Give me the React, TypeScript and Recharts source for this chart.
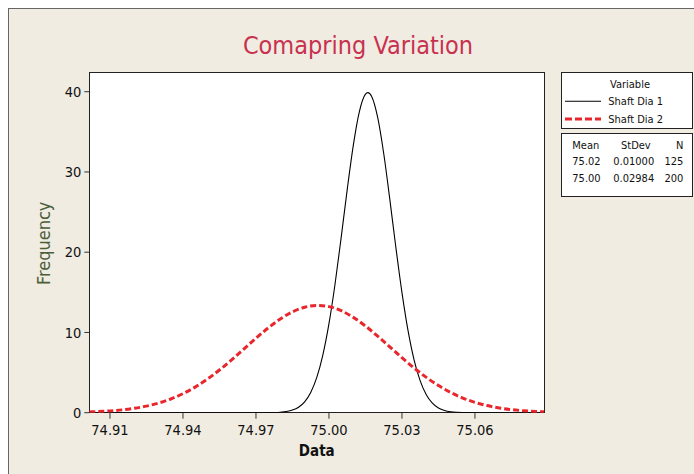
import React from "react";
import { LineChart, Line, XAxis, YAxis } from "recharts";

// Shaft Dia 1 (Mean 75.02, StDev 0.01000, N 125) — fitted density
const DIA1_X = [
  74.9015, 74.97, 74.975, 74.9775, 74.98, 74.9825, 74.985, 74.9875, 74.99, 74.9925,
  74.995, 74.9975, 75.0, 75.0025, 75.005, 75.0075, 75.01, 75.0125, 75.015, 75.016,
  75.0175, 75.02, 75.0225, 75.025, 75.0275, 75.03, 75.0325, 75.035, 75.0375, 75.04,
  75.0425, 75.045, 75.0475, 75.05, 75.0525, 75.055, 75.0575, 75.065, 75.0885,
];
const DIA1_Y = [
  0, 0, 0.009, 0.024, 0.061, 0.146, 0.327, 0.687, 1.36, 2.52,
  4.4, 7.21, 11.09, 16.04, 21.79, 27.8, 33.32, 37.52, 39.69, 39.89,
  39.45, 36.83, 32.3, 26.61, 20.59, 14.97, 10.23, 6.56, 3.96, 2.24,
  1.19, 0.595, 0.279, 0.123, 0.051, 0.02, 0.007, 0, 0,
];

// Shaft Dia 2 (Mean 75.00, StDev 0.02984, N 200)
const DIA2_X = [
  74.9015, 74.905, 74.91, 74.915, 74.92, 74.925, 74.93, 74.935, 74.94, 74.945,
  74.95, 74.955, 74.96, 74.965, 74.97, 74.975, 74.98, 74.985, 74.99, 74.995,
  75.0, 75.005, 75.01, 75.015, 75.02, 75.025, 75.03, 75.035, 75.04, 75.045,
  75.05, 75.055, 75.06, 75.065, 75.07, 75.075, 75.08, 75.085, 75.0885,
];
const DIA2_Y = [
  0.094, 0.135, 0.22, 0.351, 0.545, 0.82, 1.2, 1.71, 2.37, 3.19,
  4.18, 5.32, 6.59, 7.93, 9.28, 10.56, 11.68, 12.57, 13.14, 13.37,
  13.22, 12.71, 11.88, 10.8, 9.54, 8.2, 6.85, 5.57, 4.4, 3.38,
  2.52, 1.83, 1.29, 0.887, 0.592, 0.385, 0.243, 0.149, 0.104,
];

const X_TICKS = [74.91, 74.94, 74.97, 75.0, 75.03, 75.06];
const Y_TICKS = [0, 10, 20, 30, 40];
const X_DOMAIN = [74.9015, 75.0885];
const Y_DOMAIN = [0, 42.37];

const SERIES_NAMES = ["Shaft Dia 1", "Shaft Dia 2"];
const STAT_HEAD = ["Mean", "StDev", "N"];
const STAT_ROWS = [
  ["75.02", "0.01000", "125"],
  ["75.00", "0.02984", "200"],
];

const dia1 = DIA1_X.map((x, i) => ({ x, y: DIA1_Y[i] }));
const dia2 = DIA2_X.map((x, i) => ({ x, y: DIA2_Y[i] }));

const FONT = "'DejaVu Sans Condensed', 'Liberation Sans Narrow', 'DejaVu Sans', sans-serif";
const BG = "#F0ECE2";
const RED = "#E8262C";

const W = 686;
const H = 466;
const PL = 81.3;
const PT = 64.7;
const PW = 455;
const PH = 340;
const YW = 60;
const XH = 40;

export default function App() {
  return (
    <div
      style={{
        position: "fixed",
        left: 0,
        top: 0,
        width: 694,
        height: 474,
        background: "#fff",
        overflow: "hidden",
      }}
    >
      <div
        style={{
          position: "absolute",
          left: 8,
          top: 8,
          width: W,
          height: H,
          background: BG,
          overflow: "hidden",
          fontFamily: FONT,
        }}
      >
        <div
          style={{
            position: "absolute",
            left: 0,
            top: 0,
            width: 900,
            height: 900,
            border: "1px solid #666",
            boxSizing: "border-box",
          }}
        />
        <div
          style={{
            position: "absolute",
            left: PL - 0.5,
            top: PT - 1,
            width: PW + 1.5,
            height: PH + 1.5,
            background: "#fff",
            border: "1px solid #222",
            boxSizing: "border-box",
          }}
        />
        <div style={{ position: "absolute", left: 0, top: 0 }}>
          <LineChart
            width={W}
            height={H}
            margin={{ top: PT, left: PL - YW, right: W - PL - PW, bottom: H - PT - PH - XH }}
          >
            <XAxis
              dataKey="x"
              type="number"
              domain={X_DOMAIN}
              ticks={X_TICKS}
              allowDataOverflow
              height={XH}
              axisLine={false}
              tickLine={{ stroke: "#333" }}
              tickSize={6}
              tickMargin={6}
              tickFormatter={(v: number) => v.toFixed(2)}
              tick={{ fontSize: 14.5, fill: "#111", fontFamily: FONT }}
            />
            <YAxis
              type="number"
              domain={Y_DOMAIN}
              ticks={Y_TICKS}
              allowDataOverflow
              width={YW}
              axisLine={false}
              tickLine={{ stroke: "#333" }}
              tickSize={5}
              tickMargin={3}
              tick={{ fontSize: 14.5, fill: "#111", fontFamily: FONT }}
            />
            <Line
              data={dia1}
              dataKey="y"
              type="monotone"
              stroke="#000"
              strokeWidth={1.1}
              dot={false}
              isAnimationActive={false}
            />
            <Line
              data={dia2}
              dataKey="y"
              type="monotone"
              stroke={RED}
              strokeWidth={3}
              strokeDasharray="6 3"
              dot={false}
              isAnimationActive={false}
            />
          </LineChart>
        </div>
        <svg
          width={W}
          height={H}
          style={{ position: "absolute", left: 0, top: 0, pointerEvents: "none" }}
          fontFamily={FONT}
        >
          <text x={350} y={46.3} textAnchor="middle" fontSize={25} fill="#C8314F">
            Comapring Variation
          </text>
          <text
            x={35.5}
            y={235.3}
            transform="rotate(-90 35.5 235.3)"
            textAnchor="middle"
            dominantBaseline="central"
            fontSize={18}
            fill="#4B5E3A"
          >
            Frequency
          </text>
          <text x={PL + PW / 2} y={448} textAnchor="middle" fontSize={15} fontWeight="bold" fill="#111">
            Data
          </text>

          <rect x={553.5} y={64.5} width={131} height={56} fill="#fff" stroke="#222" strokeWidth={1} />
          <text x={622} y={80} textAnchor="middle" fontSize={11} fill="#111">
            Variable
          </text>
          <line x1={557} x2={593} y1={93.3} y2={93.3} stroke="#000" strokeWidth={1.1} />
          <text x={600.3} y={97.3} fontSize={11} fill="#111">
            {SERIES_NAMES[0]}
          </text>
          <line x1={557} x2={593} y1={111} y2={111} stroke={RED} strokeWidth={3} strokeDasharray="7 3" />
          <text x={600.3} y={115} fontSize={11} fill="#111">
            {SERIES_NAMES[1]}
          </text>

          <rect x={553.5} y={125.5} width={131} height={63} fill="#fff" stroke="#222" strokeWidth={1} />
          <text x={564.3} y={140.7} fontSize={11} fill="#111">
            {STAT_HEAD[0]}
          </text>
          <text x={613} y={140.7} fontSize={11} fill="#111">
            {STAT_HEAD[1]}
          </text>
          <text x={675.3} y={140.7} textAnchor="end" fontSize={11} fill="#111">
            {STAT_HEAD[2]}
          </text>
          {STAT_ROWS.map((r, i) => (
            <g key={i}>
              <text x={564.3} y={157.3 + i * 17} fontSize={11} fill="#111">
                {r[0]}
              </text>
              <text x={605.3} y={157.3 + i * 17} fontSize={11} fill="#111">
                {r[1]}
              </text>
              <text x={675.3} y={157.3 + i * 17} textAnchor="end" fontSize={11} fill="#111">
                {r[2]}
              </text>
            </g>
          ))}
        </svg>
      </div>
    </div>
  );
}
